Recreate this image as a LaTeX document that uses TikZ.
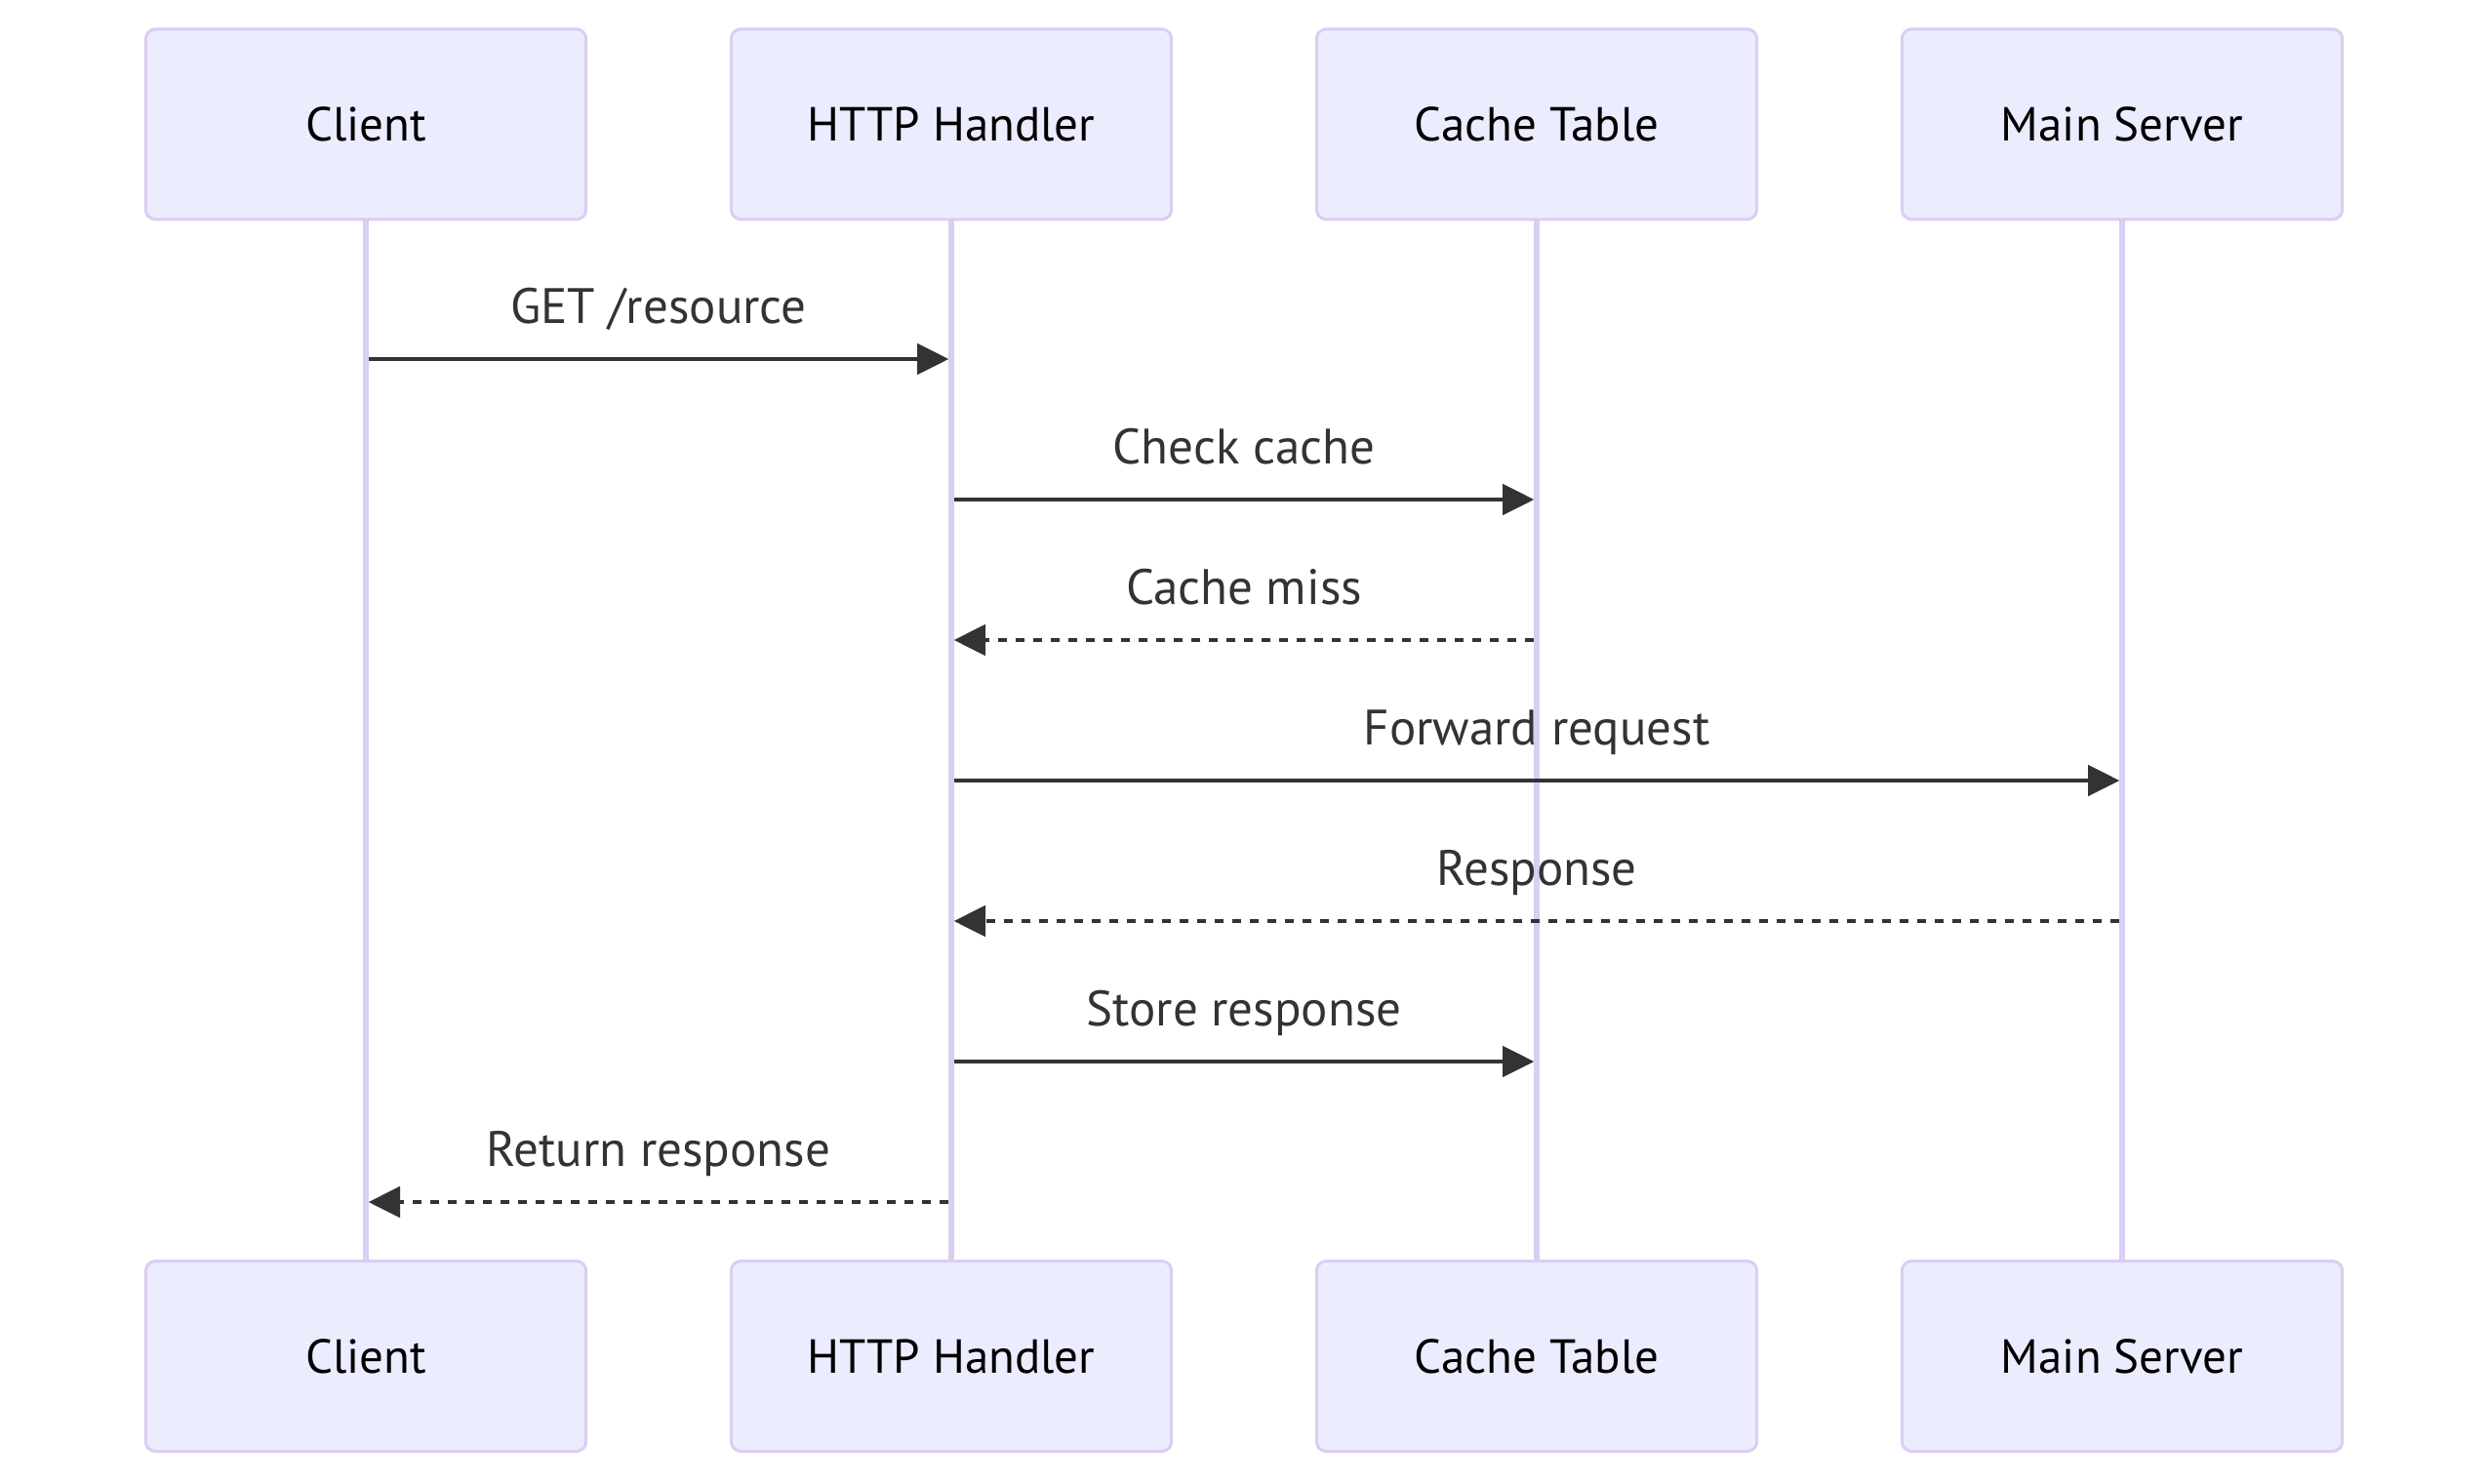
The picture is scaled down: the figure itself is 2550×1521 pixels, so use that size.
\documentclass[tikz,border=0pt]{standalone}
\usepackage{fontspec}
\setmainfont{PT Sans}
\usepackage{tikz}
\usetikzlibrary{arrows.meta}
\definecolor{actorfill}{HTML}{ECECFF}
\definecolor{actorline}{HTML}{DACEF3}
\definecolor{msgcol}{HTML}{333333}

\begin{document}
\begin{tikzpicture}[x=0.3pt,y=-0.3pt,>={Triangle[length=9.7pt,width=9.4pt]},
                    font=\fontsize{14.7}{17}\selectfont]
  \tikzstyle{actor}=[draw=actorline,fill=actorfill,line width=0.9pt,
  rounded corners=3pt,minimum width=135.4pt,minimum height=58.5pt,inner sep=0pt]
  \tikzstyle{life}=[draw=actorline,line width=1.6pt]
  \tikzstyle{msg}=[->,draw=msgcol,line width=1.2pt,shorten >=0.8pt,shorten <=0.8pt]
  \tikzstyle{reply}=[msg,dash pattern=on 2.7pt off 2.7pt]
  \tikzstyle{lbl}=[text=msgcol,anchor=base,yshift=11.1pt,
  font=\fontsize{15.3}{18}\selectfont]

  \useasboundingbox (0,0) rectangle (2550,1521);

  % participants, top and bottom
  \node[actor] (client)  at (375,127.3)  {Client};
  \node[actor] (handler) at (975,127.3)  {HTTP Handler};
  \node[actor] (cache)   at (1575,127.3) {Cache Table};
  \node[actor] (server)  at (2175,127.3) {Main Server};
  \node[actor] (clientB)  at (375,1390)  {Client};
  \node[actor] (handlerB) at (975,1390)  {HTTP Handler};
  \node[actor] (cacheB)   at (1575,1390) {Cache Table};
  \node[actor] (serverB)  at (2175,1390) {Main Server};

  % lifelines
  \foreach \p in {client,handler,cache,server}
    \draw[life] (\p) -- (\p B);

  % message rows
  \foreach \i/\y in {1/368,2/512,3/656,4/800,5/944,6/1088,7/1232}
    \coordinate (r\i) at (0,\y);

  \path (client |- r1)  edge[msg]   node[lbl] {GET /resource}    (handler |- r1)
        (handler |- r2) edge[msg]   node[lbl] {Check cache}      (cache |- r2)
        (cache |- r3)   edge[reply] node[lbl] {Cache miss}       (handler |- r3)
        (handler |- r4) edge[msg]   node[lbl] {Forward request}  (server |- r4)
        (server |- r5)  edge[reply] node[lbl] {Response}         (handler |- r5)
        (handler |- r6) edge[msg]   node[lbl] {Store response}   (cache |- r6)
        (handler |- r7) edge[reply] node[lbl] {Return response}  (client |- r7);

\end{tikzpicture}
\end{document}
